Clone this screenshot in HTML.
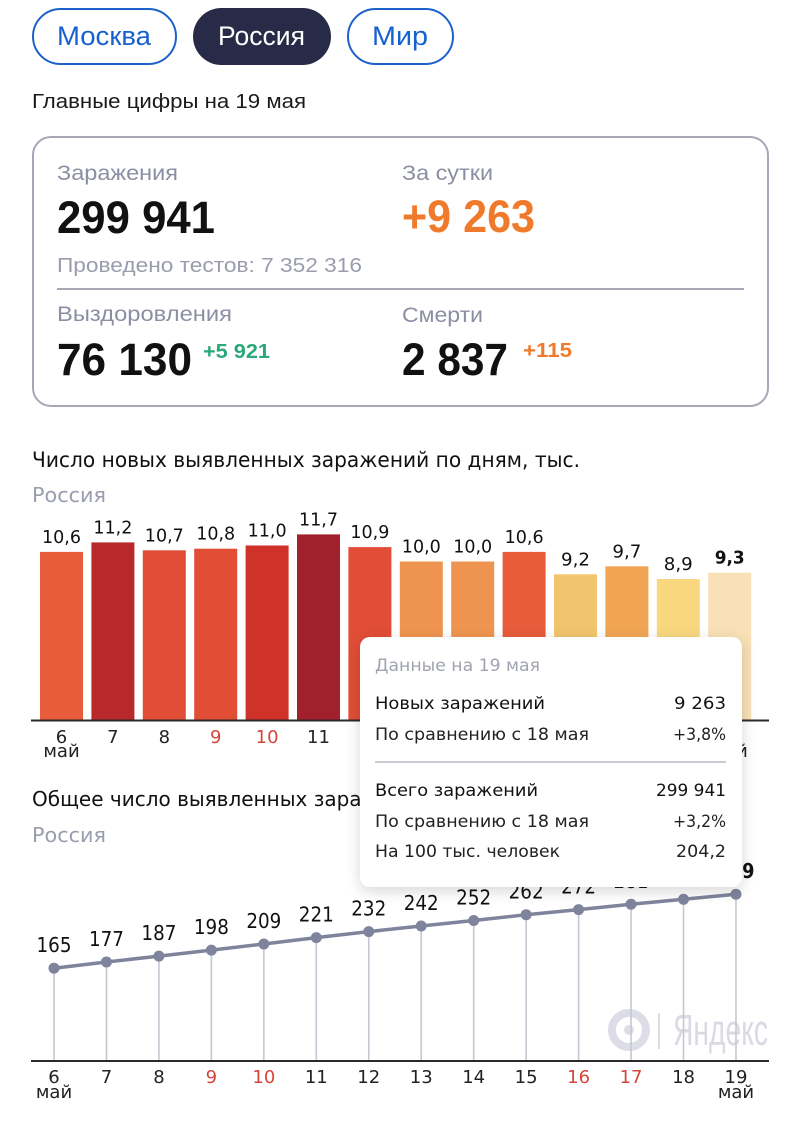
<!DOCTYPE html>
<html><head><meta charset="utf-8"><style>
html,body{margin:0;padding:0;background:#fff;}
svg{display:block;}
.ls{font-family:"Liberation Sans","Noto Sans CJK SC",sans-serif;}
.dv{font-family:"DejaVu Sans","Liberation Sans",sans-serif;}
</style></head><body>
<svg width="800" height="1125" viewBox="0 0 800 1125" xmlns="http://www.w3.org/2000/svg">
<defs>
<filter id="sh" x="-10%" y="-10%" width="120%" height="130%">
<feDropShadow dx="0" dy="4" stdDeviation="7" flood-color="#000" flood-opacity="0.16"/>
</filter>
</defs>
<rect width="800" height="1125" fill="#fff"/>

<!-- pills -->
<rect x="33" y="9" width="143" height="55" rx="27.5" fill="#fff" stroke="#1d62cc" stroke-width="2"/>
<text class="ls" x="57" y="45" font-size="27" fill="#1760d0" textLength="94" lengthAdjust="spacingAndGlyphs">Москва</text>
<rect x="193" y="8" width="138" height="57" rx="28.5" fill="#282b47"/>
<text class="ls" x="218" y="45" font-size="27" fill="#fff" textLength="87" lengthAdjust="spacingAndGlyphs">Россия</text>
<rect x="348" y="9" width="105" height="55" rx="27.5" fill="#fff" stroke="#1d62cc" stroke-width="2"/>
<text class="ls" x="372" y="45" font-size="27" fill="#1760d0" textLength="56" lengthAdjust="spacingAndGlyphs">Мир</text>

<text class="ls" x="32" y="108" font-size="20" fill="#1a1a1a" textLength="274" lengthAdjust="spacingAndGlyphs">Главные цифры на 19 мая</text>

<!-- card -->
<rect x="33" y="137" width="735" height="269" rx="18" fill="#fff" stroke="#a6a8b6" stroke-width="2"/>
<text class="ls" x="57" y="180" font-size="21" fill="#8b8fa3" textLength="121" lengthAdjust="spacingAndGlyphs">Заражения</text>
<text class="ls" x="57" y="233" font-size="45" font-weight="bold" fill="#111" textLength="158" lengthAdjust="spacingAndGlyphs">299 941</text>
<text class="ls" x="57" y="272" font-size="20" fill="#9a9dae" textLength="305" lengthAdjust="spacingAndGlyphs">Проведено тестов: 7 352 316</text>
<line x1="57" y1="289" x2="744" y2="289" stroke="#a6a8b6" stroke-width="2"/>
<text class="ls" x="57" y="321" font-size="21" fill="#8b8fa3" textLength="175" lengthAdjust="spacingAndGlyphs">Выздоровления</text>
<text class="ls" x="57" y="375" font-size="45" font-weight="bold" fill="#111" textLength="135" lengthAdjust="spacingAndGlyphs">76 130</text>
<text class="ls" x="203" y="358" font-size="20" font-weight="bold" fill="#2aa87a" textLength="67" lengthAdjust="spacingAndGlyphs">+5 921</text>

<text class="ls" x="402" y="180" font-size="21" fill="#8b8fa3" textLength="91" lengthAdjust="spacingAndGlyphs">За сутки</text>
<text class="ls" x="402" y="232" font-size="45" font-weight="bold" fill="#f07a2c" textLength="133" lengthAdjust="spacingAndGlyphs">+9 263</text>
<text class="ls" x="402" y="322" font-size="21" fill="#8b8fa3" textLength="81" lengthAdjust="spacingAndGlyphs">Смерти</text>
<text class="ls" x="402" y="375" font-size="45" font-weight="bold" fill="#111" textLength="106" lengthAdjust="spacingAndGlyphs">2 837</text>
<text class="ls" x="523" y="357" font-size="20" font-weight="bold" fill="#f07a2c" textLength="49" lengthAdjust="spacingAndGlyphs">+115</text>

<!-- bar chart -->
<text class="dv" x="32" y="467" font-size="21" fill="#111" textLength="548" lengthAdjust="spacingAndGlyphs">Число новых выявленных заражений по дням, тыс.</text>
<text class="dv" x="32" y="502" font-size="20" fill="#9a9dae" textLength="74" lengthAdjust="spacingAndGlyphs">Россия</text>

<g>
<rect x="40" y="551.9" width="43" height="169.1" fill="#e85c3c"/>
<rect x="91.4" y="542.4" width="43" height="178.6" fill="#b7292b"/>
<rect x="142.8" y="550.3" width="43" height="170.7" fill="#e14d36"/>
<rect x="194.2" y="548.7" width="43" height="172.3" fill="#e24d36"/>
<rect x="245.6" y="545.5" width="43" height="175.5" fill="#cf3229"/>
<rect x="297" y="534.4" width="43" height="186.6" fill="#a21f2c"/>
<rect x="348.4" y="547.1" width="43" height="173.9" fill="#e14d36"/>
<rect x="399.8" y="561.5" width="43" height="159.5" fill="#ef9450"/>
<rect x="451.2" y="561.5" width="43" height="159.5" fill="#ef9450"/>
<rect x="502.6" y="551.9" width="43" height="169.1" fill="#e85c3c"/>
<rect x="554" y="574.3" width="43" height="146.7" fill="#f3c46e"/>
<rect x="605.4" y="566.3" width="43" height="154.7" fill="#f1a554"/>
<rect x="656.8" y="579" width="43" height="142" fill="#f8d77e"/>
<rect x="708.2" y="572.7" width="43" height="148.3" fill="#f9e0b6"/>
</g>
<g class="dv" font-size="18" fill="#111" text-anchor="middle">
<text x="61.5" y="543" textLength="39" lengthAdjust="spacingAndGlyphs">10,6</text>
<text x="112.9" y="533.4" textLength="39" lengthAdjust="spacingAndGlyphs">11,2</text>
<text x="164.3" y="541.3" textLength="39" lengthAdjust="spacingAndGlyphs">10,7</text>
<text x="215.7" y="539.7" textLength="39" lengthAdjust="spacingAndGlyphs">10,8</text>
<text x="267.1" y="536.5" textLength="39" lengthAdjust="spacingAndGlyphs">11,0</text>
<text x="318.5" y="525.4" textLength="39" lengthAdjust="spacingAndGlyphs">11,7</text>
<text x="369.9" y="538.1" textLength="39" lengthAdjust="spacingAndGlyphs">10,9</text>
<text x="421.3" y="552.5" textLength="39" lengthAdjust="spacingAndGlyphs">10,0</text>
<text x="472.7" y="552.5" textLength="39" lengthAdjust="spacingAndGlyphs">10,0</text>
<text x="524.1" y="542.9" textLength="39" lengthAdjust="spacingAndGlyphs">10,6</text>
<text x="575.5" y="565.3" textLength="29" lengthAdjust="spacingAndGlyphs">9,2</text>
<text x="626.9" y="557.3" textLength="29" lengthAdjust="spacingAndGlyphs">9,7</text>
<text x="678.3" y="570" textLength="29" lengthAdjust="spacingAndGlyphs">8,9</text>
<text x="729.7" y="563.7" font-weight="bold" textLength="30" lengthAdjust="spacingAndGlyphs">9,3</text>
</g>
<line x1="31" y1="720.5" x2="769" y2="720.5" stroke="#2a2a2a" stroke-width="2"/>
<g class="dv" font-size="18" fill="#222" text-anchor="middle">
<text x="61.5" y="743">6</text>
<text x="61.5" y="757">май</text>
<text x="112.9" y="743">7</text>
<text x="164.3" y="743">8</text>
<text x="215.7" y="743" fill="#d6453a">9</text>
<text x="267.1" y="743" fill="#d6453a">10</text>
<text x="318.5" y="743">11</text>
<text x="369.9" y="743">12</text>
<text x="421.3" y="743">13</text>
<text x="472.7" y="743">14</text>
<text x="524.1" y="743">15</text>
<text x="575.5" y="743" fill="#d6453a">16</text>
<text x="626.9" y="743" fill="#d6453a">17</text>
<text x="678.3" y="743">18</text>
<text x="729.7" y="743">19</text>
<text x="729.7" y="757">май</text>
</g>

<!-- line chart -->
<text class="dv" x="32" y="806" font-size="20" fill="#111">Общее число выявленных заражений, тыс.</text>
<text class="dv" x="32" y="842" font-size="20" fill="#9a9dae" textLength="74" lengthAdjust="spacingAndGlyphs">Россия</text>

<!-- watermark -->
<g fill="none" stroke="#dcdde6">
<circle cx="629" cy="1030" r="17" stroke-width="8"/>
</g>
<circle cx="629" cy="1030" r="5" fill="#dcdde6"/>
<line x1="659" y1="1013" x2="659" y2="1049" stroke="#dcdde6" stroke-width="2"/>
<text class="ls" x="673" y="1045" font-size="44" fill="#d9dae3" textLength="95" lengthAdjust="spacingAndGlyphs">Яндекс</text>

<g stroke="#c5c8d3" stroke-width="1.6">
<line x1="54" y1="968.2" x2="54" y2="1061"/>
<line x1="106.46" y1="962" x2="106.46" y2="1061"/>
<line x1="158.92" y1="956.1" x2="158.92" y2="1061"/>
<line x1="211.38" y1="950.1" x2="211.38" y2="1061"/>
<line x1="263.84" y1="944" x2="263.84" y2="1061"/>
<line x1="316.3" y1="937.6" x2="316.3" y2="1061"/>
<line x1="368.76" y1="931.6" x2="368.76" y2="1061"/>
<line x1="421.22" y1="926" x2="421.22" y2="1061"/>
<line x1="473.68" y1="920.5" x2="473.68" y2="1061"/>
<line x1="526.14" y1="914.7" x2="526.14" y2="1061"/>
<line x1="578.6" y1="909.6" x2="578.6" y2="1061"/>
<line x1="631.06" y1="904.2" x2="631.06" y2="1061"/>
<line x1="683.52" y1="899.3" x2="683.52" y2="1061"/>
<line x1="735.98" y1="894.2" x2="735.98" y2="1061"/>
</g>
<polyline fill="none" stroke="#7f849c" stroke-width="3.5" stroke-linejoin="round" points="54,968.2 106.46,962 158.92,956.1 211.38,950.1 263.84,944 316.3,937.6 368.76,931.6 421.22,926 473.68,920.5 526.14,914.7 578.6,909.6 631.06,904.2 683.52,899.3 735.98,894.2"/>
<g fill="#7f849c">
<circle cx="54" cy="968.2" r="5.5"/>
<circle cx="106.46" cy="962" r="5.5"/>
<circle cx="158.92" cy="956.1" r="5.5"/>
<circle cx="211.38" cy="950.1" r="5.5"/>
<circle cx="263.84" cy="944" r="5.5"/>
<circle cx="316.3" cy="937.6" r="5.5"/>
<circle cx="368.76" cy="931.6" r="5.5"/>
<circle cx="421.22" cy="926" r="5.5"/>
<circle cx="473.68" cy="920.5" r="5.5"/>
<circle cx="526.14" cy="914.7" r="5.5"/>
<circle cx="578.6" cy="909.6" r="5.5"/>
<circle cx="631.06" cy="904.2" r="5.5"/>
<circle cx="683.52" cy="899.3" r="5.5"/>
<circle cx="735.98" cy="894.2" r="5.5"/>
</g>
<g class="dv" font-size="20" fill="#111" text-anchor="middle">
<text x="54" y="952.2" textLength="35" lengthAdjust="spacingAndGlyphs">165</text>
<text x="106.46" y="946" textLength="35" lengthAdjust="spacingAndGlyphs">177</text>
<text x="158.92" y="940.1" textLength="35" lengthAdjust="spacingAndGlyphs">187</text>
<text x="211.38" y="934.1" textLength="35" lengthAdjust="spacingAndGlyphs">198</text>
<text x="263.84" y="928" textLength="35" lengthAdjust="spacingAndGlyphs">209</text>
<text x="316.3" y="921.6" textLength="35" lengthAdjust="spacingAndGlyphs">221</text>
<text x="368.76" y="915.6" textLength="35" lengthAdjust="spacingAndGlyphs">232</text>
<text x="421.22" y="910" textLength="35" lengthAdjust="spacingAndGlyphs">242</text>
<text x="473.68" y="904.5" textLength="35" lengthAdjust="spacingAndGlyphs">252</text>
<text x="526.14" y="898.7" textLength="35" lengthAdjust="spacingAndGlyphs">262</text>
<text x="578.6" y="893.6" textLength="35" lengthAdjust="spacingAndGlyphs">272</text>
<text x="631.06" y="888.2" textLength="35" lengthAdjust="spacingAndGlyphs">281</text>
<text x="683.52" y="883.3" textLength="35" lengthAdjust="spacingAndGlyphs">290</text>
<text x="735.98" y="878.2" font-weight="bold" textLength="37" lengthAdjust="spacingAndGlyphs">299</text>
</g>
<line x1="31" y1="1061" x2="769" y2="1061" stroke="#2a2a2a" stroke-width="2"/>
<g class="dv" font-size="18" fill="#222" text-anchor="middle">
<text x="54" y="1083">6</text>
<text x="54" y="1098">май</text>
<text x="106.46" y="1083">7</text>
<text x="158.92" y="1083">8</text>
<text x="211.38" y="1083" fill="#d6453a">9</text>
<text x="263.84" y="1083" fill="#d6453a">10</text>
<text x="316.3" y="1083">11</text>
<text x="368.76" y="1083">12</text>
<text x="421.22" y="1083">13</text>
<text x="473.68" y="1083">14</text>
<text x="526.14" y="1083">15</text>
<text x="578.6" y="1083" fill="#d6453a">16</text>
<text x="631.06" y="1083" fill="#d6453a">17</text>
<text x="683.52" y="1083">18</text>
<text x="735.98" y="1083">19</text>
<text x="735.98" y="1098">май</text>
</g>

<!-- tooltip -->
<rect x="360" y="637" width="382" height="250" rx="10" fill="#fff" filter="url(#sh)"/>
<g class="dv" font-size="17">
<text x="375" y="671" fill="#a0a3b0" textLength="165" lengthAdjust="spacingAndGlyphs">Данные на 19 мая</text>
<text x="375" y="709" fill="#111" font-weight="500" textLength="170" lengthAdjust="spacingAndGlyphs">Новых заражений</text>
<text x="726" y="709" fill="#111" text-anchor="end" textLength="52" lengthAdjust="spacingAndGlyphs">9 263</text>
<text x="375" y="740" fill="#222" textLength="214" lengthAdjust="spacingAndGlyphs">По сравнению с 18 мая</text>
<text x="726" y="740" fill="#222" text-anchor="end" textLength="53" lengthAdjust="spacingAndGlyphs">+3,8%</text>
<line x1="375" y1="762" x2="726" y2="762" stroke="#b8bac4" stroke-width="1.5"/>
<text x="375" y="796" fill="#111" textLength="163" lengthAdjust="spacingAndGlyphs">Всего заражений</text>
<text x="726" y="796" fill="#111" text-anchor="end" textLength="70" lengthAdjust="spacingAndGlyphs">299 941</text>
<text x="375" y="827" fill="#222" textLength="214" lengthAdjust="spacingAndGlyphs">По сравнению с 18 мая</text>
<text x="726" y="827" fill="#222" text-anchor="end" textLength="53" lengthAdjust="spacingAndGlyphs">+3,2%</text>
<text x="375" y="857" fill="#222" textLength="185" lengthAdjust="spacingAndGlyphs">На 100 тыс. человек</text>
<text x="726" y="857" fill="#222" text-anchor="end" textLength="50" lengthAdjust="spacingAndGlyphs">204,2</text>
</g>
</svg>
</body></html>
